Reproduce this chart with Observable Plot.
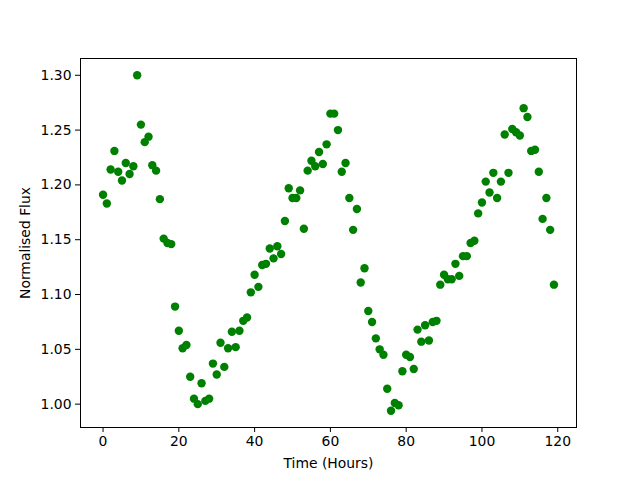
<!DOCTYPE html>
<html>
<head>
<meta charset="utf-8">
<script src="https://cdn.jsdelivr.net/npm/d3@7"></script>
<script src="https://cdn.jsdelivr.net/npm/@observablehq/plot@0.6"></script>
<style>
  html, body { margin: 0; padding: 0; background: #fff; }
</style>
</head>
<body>
<div id="chart"></div>
<script>
const hours = d3.range(0, 120);
const flux = [
  1.191, 1.183, 1.214, 1.231, 1.212, 1.204, 1.220, 1.210, 1.217, 1.300,
  1.255, 1.239, 1.244, 1.218, 1.213, 1.187, 1.151, 1.147, 1.146, 1.089,
  1.067, 1.051, 1.054, 1.025, 1.005, 1.000, 1.019, 1.003, 1.005, 1.037,
  1.027, 1.056, 1.034, 1.051, 1.066, 1.052, 1.067, 1.076, 1.079, 1.102,
  1.118, 1.107, 1.127, 1.128, 1.142, 1.133, 1.144, 1.137, 1.167, 1.197,
  1.188, 1.188, 1.195, 1.160, 1.213, 1.222, 1.217, 1.230, 1.219, 1.237,
  1.265, 1.265, 1.250, 1.212, 1.220, 1.188, 1.159, 1.178, 1.111, 1.124,
  1.085, 1.075, 1.060, 1.050, 1.045, 1.014, 0.994, 1.001, 0.999, 1.030,
  1.045, 1.043, 1.032, 1.068, 1.057, 1.072, 1.058, 1.075, 1.076, 1.109,
  1.118, 1.114, 1.114, 1.128, 1.117, 1.135, 1.135, 1.147, 1.149, 1.174,
  1.184, 1.203, 1.193, 1.211, 1.188, 1.203, 1.246, 1.211, 1.251, 1.248,
  1.245, 1.270, 1.262, 1.231, 1.232, 1.212, 1.169, 1.188, 1.159, 1.109
];
const xTicks = [0, 20, 40, 60, 80, 100, 120];
const yTicks = [1.00, 1.05, 1.10, 1.15, 1.20, 1.25, 1.30];

const data = hours.map((h, i) => ({ h, f: flux[i] }));

const xmin = d3.min(hours), xmax = d3.max(hours);
const ymin = d3.min(flux), ymax = d3.max(flux);
const xm = (xmax - xmin) * 0.05, ym = (ymax - ymin) * 0.05;

const chart = Plot.plot({
  width: 640,
  height: 480,
  marginLeft: 80,
  marginRight: 64,
  marginTop: 58,
  marginBottom: 53,
  style: { fontFamily: "DejaVu Sans", fontSize: "13.9px", background: "white", color: "black" },
  x: { domain: [xmin - xm, xmax + xm] },
  y: { domain: [ymin - ym, ymax + ym] },
  marks: [
    Plot.dot(data, { x: "h", y: "f", r: 4.2, fill: "#008000", stroke: "none" }),
    Plot.frame({ stroke: "black", strokeWidth: 1 }),
    Plot.axisX({ ticks: xTicks, tickSize: 5, tickPadding: 4, fontSize: 13.9,
      label: "Time (Hours)", labelAnchor: "center", labelArrow: "none", labelOffset: 40 }),
    Plot.axisY({ ticks: yTicks, tickSize: 5, tickPadding: 4, fontSize: 13.9,
      tickFormat: d3.format(".2f"),
      label: "Normalised Flux", labelAnchor: "center", labelArrow: "none", labelOffset: 60 })
  ]
});
document.getElementById("chart").appendChild(chart);
</script>
</body>
</html>
